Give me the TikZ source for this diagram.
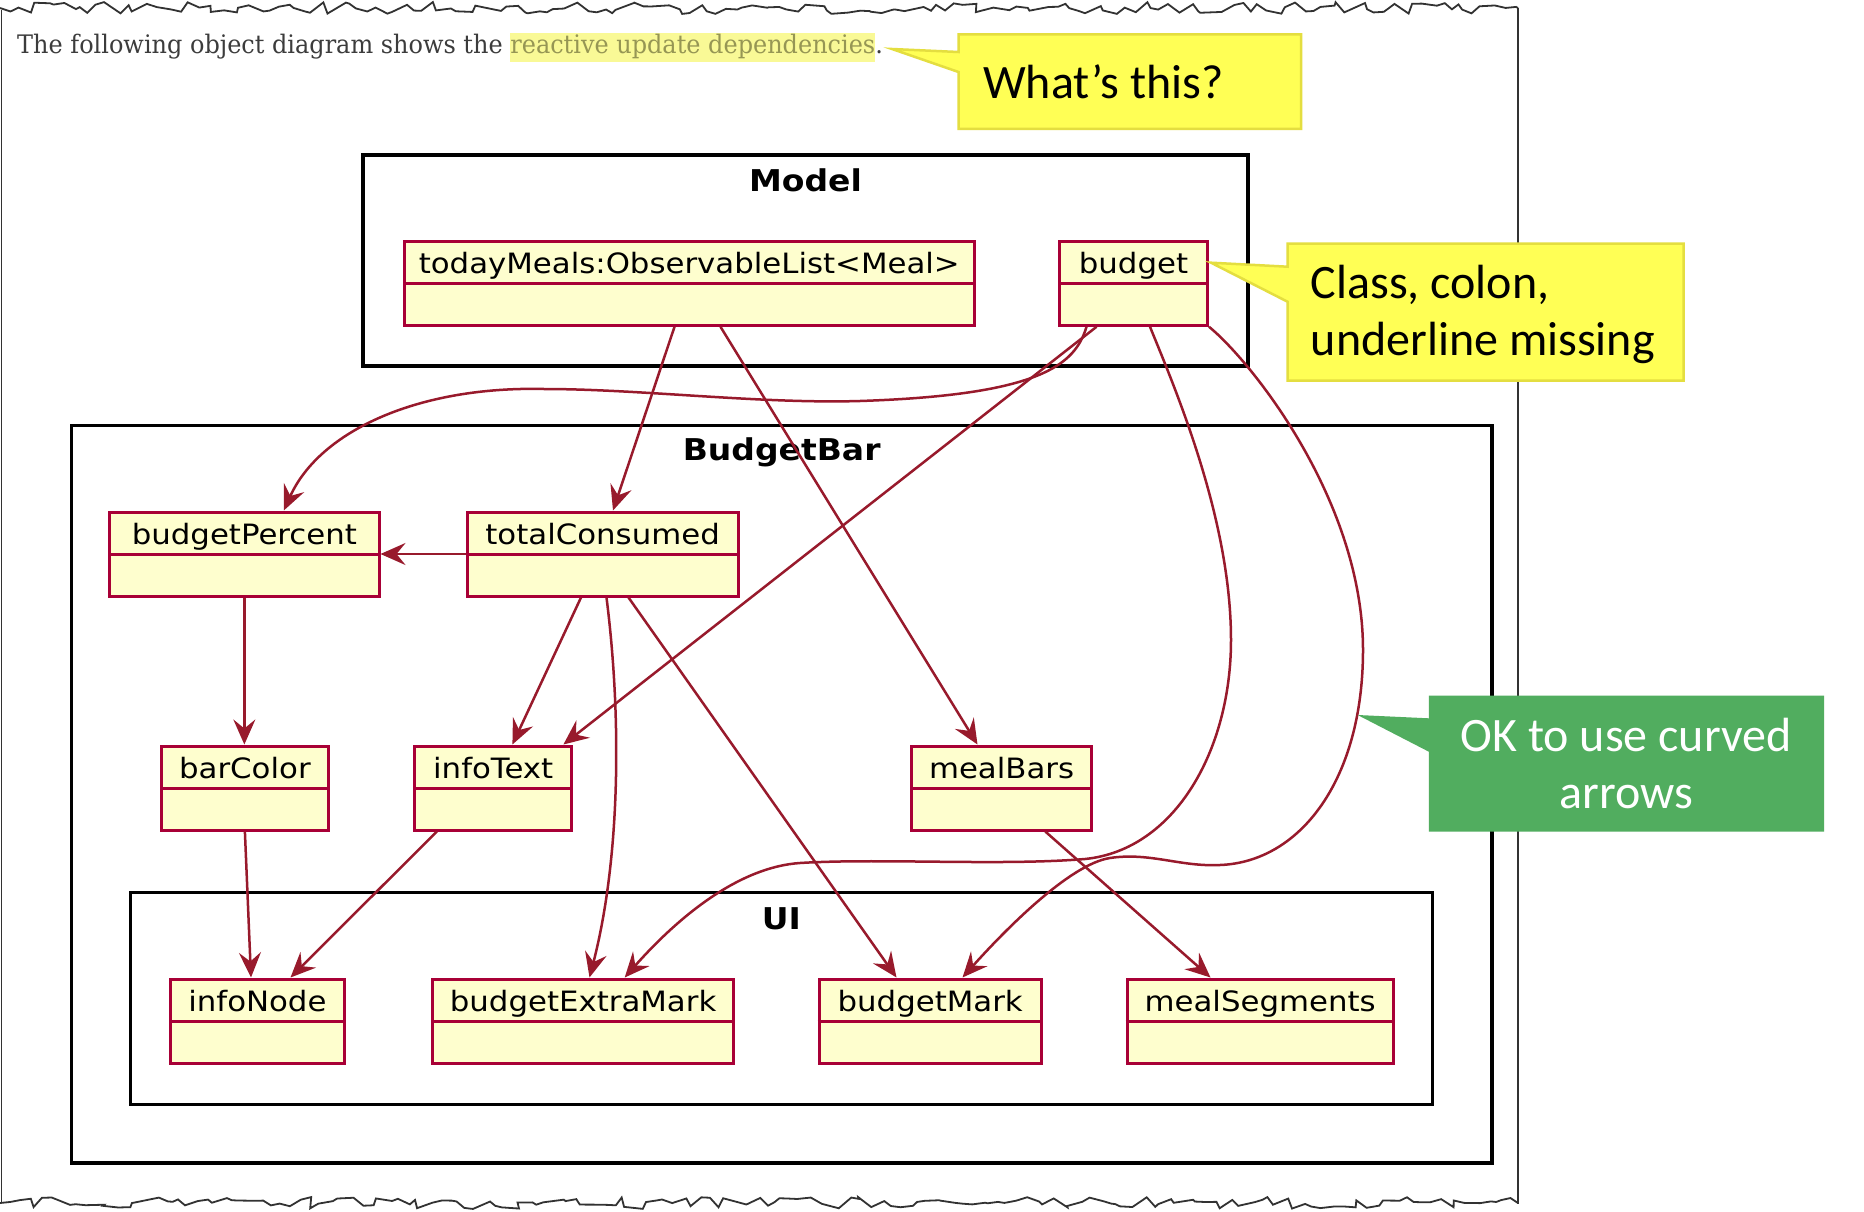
\documentclass[tikz,border=0pt]{standalone}
\usepackage{fontspec}
\usetikzlibrary{arrows.meta,calc,decorations.pathmorphing}

\newfontfamily\umlfont[FakeStretch=1.1]{DejaVu Sans}
\newfontfamily\notefont{Carlito}
\newfontfamily\docfont[FakeStretch=0.94]{DejaVu Serif}

\definecolor{objborder}{RGB}{168,0,54}
\definecolor{objfill}{RGB}{254,254,206}
\definecolor{arrowred}{RGB}{152,26,44}
\definecolor{noteyellow}{RGB}{255,255,85}
\definecolor{noteyellowedge}{RGB}{228,222,64}
\definecolor{notegreen}{RGB}{81,173,95}
\definecolor{hlyellow}{RGB}{249,249,150}
\definecolor{hltext}{RGB}{150,150,84}
\definecolor{doctext}{RGB}{60,60,60}
\definecolor{pageedge}{RGB}{50,50,50}

% highlighted run of text
\newcommand{\hilite}[1]{{\setlength{\fboxsep}{0pt}\colorbox{hlyellow}{\strut\color{hltext}#1}}}

% object box: name, left, right, top, label
\newcommand{\umlobj}[5]{%
  \node[obj, minimum width={#3pt-#2pt}] (#1) at ({(#2+#3)/2},{#4+42}) {};
  \draw[objborder, line width=3pt] ($(#1.north west)+(0,44)$) -- ($(#1.north east)+(0,44)$);
  \node[objlabel] (#1-label) at ($(#1.north)+(0,34)$) {#5};
}

\begin{document}
\begin{tikzpicture}[x=1pt, y=-1pt,
  pkg/.style={draw=black, line width=3.5pt, inner sep=0pt},
  pkgtitle/.style={font={\umlfont\bfseries\fontsize{30}{36}\selectfont}, anchor=base, inner sep=0pt},
  obj/.style={draw=objborder, fill=objfill, line width=3pt, minimum height=84pt, inner sep=0pt},
  objlabel/.style={font={\umlfont\fontsize{28}{34}\selectfont}, anchor=base, inner sep=0pt},
  dep/.style={draw=arrowred, line width=2.5pt, -{Stealth[length=25pt,width=22pt,inset=9pt]}},
  note/.style={font={\notefont\fontsize{48}{57.5}\selectfont}, inner sep=0pt},
  torn/.style={draw=pageedge, line width=1.8pt, decorate,
    decoration={random steps, segment length=9pt, amplitude=6pt}},
]
\useasboundingbox (0,0) rectangle (1864,1212);
\fill[white] (0,0) rectangle (1864,1212);

% page of the document, torn at top and bottom
\pgfmathsetseed{42}
\draw[pageedge, line width=1.5pt] (1.5,10) -- (1.5,1202);
\draw[pageedge, line width=1.5pt] (1518,8) -- (1518,1204);
\draw[torn] (0,8) -- (1518,8);
\draw[torn] (0,1203) -- (1518,1203);

\node[anchor=base west, inner sep=0pt, text=doctext,
      font={\docfont\fontsize{25.5}{29}\selectfont}] (intro) at (17,53.3)
  {The following object diagram shows the \hilite{reactive update dependencies}.};

% packages
\node[pkg, minimum width=885pt, minimum height=211pt] (model) at (805.5,260.5) {};
\node[pkgtitle] (model-title) at (805.5,191) {Model};
\node[pkg, minimum width=1420.7pt, minimum height=737.2pt] (budgetbar) at (781.65,794.2) {};
\node[pkgtitle] (budgetbar-title) at (781.65,460.5) {BudgetBar};
\node[pkg, minimum width=1301.8pt, minimum height=211.8pt] (ui) at (781.4,998.4) {};
\node[pkgtitle] (ui-title) at (781.4,929) {UI};

% objects
\umlobj{todayMeals}{404.5}{974}{241.3}{todayMeals:ObservableList<Meal>}
\umlobj{budget}{1059.5}{1207.5}{241.3}{budget}
\umlobj{budgetPercent}{109.7}{379}{512}{budgetPercent}
\umlobj{totalConsumed}{467.2}{738}{512}{totalConsumed}
\umlobj{barColor}{161.7}{328.1}{746}{barColor}
\umlobj{infoText}{414.9}{571.5}{746}{infoText}
\umlobj{mealBars}{911.8}{1091.3}{746}{mealBars}
\umlobj{infoNode}{170.5}{344.3}{979}{infoNode}
\umlobj{budgetExtraMark}{432.7}{733.5}{979}{budgetExtraMark}
\umlobj{budgetMark}{819}{1041.4}{979}{budgetMark}
\umlobj{mealSegments}{1127}{1393.3}{979}{mealSegments}

% dependencies
\draw[dep] ($(todayMeals.south west)+(271.5,0)$) -- ($(totalConsumed.north west)+(147.3,0)$);
\draw[dep] ($(todayMeals.south west)+(317.5,0)$) -- ($(mealBars.north west)+(67.2,0)$);
\draw[dep] ($(budget.south west)+(28.5,0)$)
  .. controls (1075,365) and (1040,395) .. (860,401)
  .. controls (760,404) and (640,389) .. (544,389)
  .. controls (420,386) and (320,430) .. ($(budgetPercent.north west)+(175.6,0)$);
\draw[dep] ($(budget.south west)+(38.5,0)$) -- ($(infoText.north west)+(150,0)$);
\draw[dep] ($(budget.south west)+(92,0)$)
  .. controls (1176.6,392) and (1231,520) .. (1231,640)
  .. controls (1231,750) and (1175,850) .. (1085,859)
  .. controls (1000,866) and (880,858) .. (800,863)
  .. controls (740,867) and (680,915) .. ($(budgetExtraMark.north west)+(193.5,0)$);
\draw[dep] (budget.south east)
  .. controls (1250,360) and (1363,500) .. (1363,650)
  .. controls (1363,780) and (1300,862) .. (1220,865)
  .. controls (1180,867) and (1150,852) .. (1110,858)
  .. controls (1070,864) and (1005,930) .. ($(budgetMark.north west)+(145,0)$);
\draw[dep] (totalConsumed.west) -- (budgetPercent.east);
\draw[dep] ($(totalConsumed.south west)+(115.3,0)$) -- ($(infoText.north west)+(99,0)$);
\draw[dep] ($(totalConsumed.south west)+(140.8,0)$)
  .. controls (622,720) and (620,860) .. ($(budgetExtraMark.north west)+(158.3,0)$);
\draw[dep] ($(totalConsumed.south west)+(162.8,0)$) -- ($(budgetMark.north west)+(79,0)$);
\draw[dep] (budgetPercent.south) -- (budgetPercent.south |- barColor.north);
\draw[dep] (barColor.south) -- ($(infoNode.north west)+(82,0)$);
\draw[dep] ($(infoText.south west)+(23.5,0)$) -- ($(infoNode.north west)+(121.5,0)$);
\draw[dep] ($(mealBars.south west)+(135,0)$) -- ($(mealSegments.north west)+(85,0)$);

% review callouts
\draw[draw=noteyellowedge, fill=noteyellow, line width=2.5pt]
  (958.5,34.5) -- (1301,34.5) -- (1301,129) -- (958.5,129) -- (958.5,72)
  -- (892,49) -- (958.5,52) -- cycle;
\node[note, anchor=base west] (whatnote) at (983,98.3) {What’s this?};

\draw[draw=noteyellowedge, fill=noteyellow, line width=2.5pt]
  (1287.5,243.5) -- (1683.5,243.5) -- (1683.5,380.5) -- (1287.5,380.5) -- (1287.5,301.7)
  -- (1211,262.7) -- (1287.5,266.7) -- cycle;
\node[note, anchor=base west] (classnote) at (1310.6,298.3)
  {\begin{tabular}[t]{@{}l@{}}Class, colon,\\underline missing\end{tabular}};

\fill[notegreen]
  (1428.8,695.7) -- (1824,695.7) -- (1824,831.7) -- (1428.8,831.7) -- (1428.8,751.7)
  -- (1357.6,715) -- (1428.8,718.3) -- cycle;
\node[note, anchor=base, text=white] (curvenote) at (1626,751)
  {\begin{tabular}[t]{@{}c@{}}OK to use curved\\arrows\end{tabular}};
\end{tikzpicture}
\end{document}
